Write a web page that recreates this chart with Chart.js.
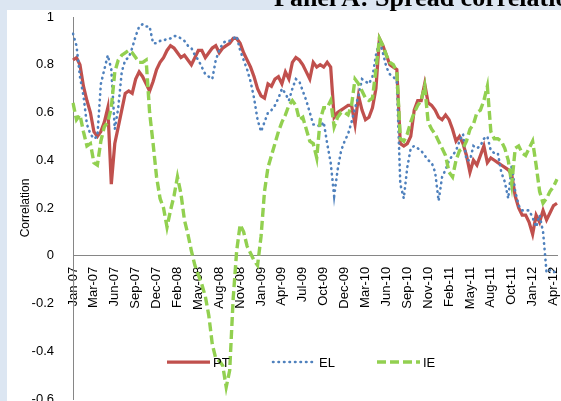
<!DOCTYPE html>
<html>
<head>
<meta charset="utf-8">
<script src="https://cdn.jsdelivr.net/npm/chart.js@4.4.0/dist/chart.umd.min.js"></script>
<style>
  html, body { margin: 0; padding: 0; }
  body { width: 561px; height: 401px; background: #dce6f2; position: relative; overflow: hidden; }
  #panel { position: absolute; left: 7px; top: 10px; width: 554px; height: 391px; background: #fff; overflow: hidden; }
  #title { position: absolute; left: 274px; top: -15px; font: bold 26px "Liberation Serif", "Times New Roman", serif; line-height: 26px; white-space: nowrap; color: #000; }
</style>
</head>
<body>
<div id="panel"><canvas id="myChart" width="554" height="398"></canvas></div>
<div id="title">Panel A: Spread correlations</div>
<script>
// tick labels along the date axis (one every 6 points)
let tick_labels = ['Jan-07','Mar-07','Jun-07','Sep-07','Dec-07','Feb-08','May-08','Aug-08','Nov-08','Jan-09',
  'Apr-09','Jul-09','Oct-09','Dec-09','Mar-10','Jun-10','Sep-10','Nov-10','Feb-11','May-11',
  'Aug-11','Oct-11','Jan-12','Apr-12'];

// correlation series (about two weeks apart)
let pt_values = [0.82,0.83,0.80,0.71,0.65,0.60,0.52,0.50,0.52,0.56,
  0.62,0.30,0.47,0.54,0.61,0.68,0.69,0.68,0.74,0.77,
  0.75,0.72,0.69,0.73,0.78,0.81,0.83,0.86,0.88,0.87,
  0.85,0.83,0.84,0.82,0.80,0.83,0.86,0.86,0.83,0.85,
  0.87,0.88,0.85,0.87,0.88,0.89,0.91,0.91,0.89,0.85,
  0.82,0.79,0.75,0.70,0.67,0.66,0.72,0.71,0.74,0.75,
  0.72,0.77,0.74,0.81,0.83,0.82,0.80,0.77,0.74,0.81,
  0.79,0.80,0.79,0.81,0.79,0.58,0.60,0.61,0.62,0.63,
  0.63,0.55,0.67,0.61,0.57,0.58,0.62,0.70,0.91,0.88,
  0.84,0.80,0.79,0.78,0.47,0.46,0.47,0.50,0.61,0.65,
  0.65,0.72,0.64,0.63,0.61,0.58,0.57,0.59,0.57,0.53,
  0.48,0.50,0.47,0.42,0.35,0.40,0.38,0.42,0.46,0.39,
  0.41,0.40,0.39,0.38,0.37,0.36,0.34,0.25,0.20,0.17,
  0.17,0.14,0.09,0.17,0.14,0.19,0.15,0.18,0.21,0.22];

let el_values = [0.93,0.88,0.75,0.67,0.55,0.51,0.49,0.50,0.72,0.78,
  0.84,0.78,0.53,0.62,0.77,0.82,0.83,0.87,0.92,0.96,
  0.97,0.96,0.96,0.89,0.89,0.90,0.90,0.91,0.91,0.92,
  0.92,0.91,0.90,0.88,0.87,0.84,0.82,0.79,0.76,0.75,
  0.74,0.82,0.86,0.89,0.90,0.90,0.91,0.92,0.86,0.82,
  0.78,0.73,0.66,0.57,0.52,0.56,0.60,0.61,0.63,0.66,
  0.70,0.68,0.65,0.70,0.74,0.73,0.69,0.65,0.60,0.55,
  0.55,0.54,0.56,0.47,0.39,0.25,0.36,0.44,0.48,0.51,
  0.56,0.62,0.67,0.74,0.73,0.72,0.75,0.84,0.90,0.85,
  0.79,0.76,0.75,0.73,0.30,0.24,0.37,0.45,0.46,0.45,
  0.44,0.42,0.40,0.39,0.35,0.23,0.33,0.36,0.40,0.42,
  0.44,0.48,0.51,0.40,0.40,0.46,0.45,0.46,0.49,0.50,
  0.44,0.43,0.43,0.35,0.31,0.24,0.38,0.27,0.21,0.19,
  0.19,0.19,0.16,0.12,0.17,0.10,-0.07,-0.06,-0.07,-0.06];

let ie_values = [0.64,0.57,0.59,0.52,0.46,0.47,0.39,0.38,0.48,0.54,
  0.56,0.62,0.77,0.82,0.84,0.85,0.86,0.85,0.83,0.81,
  0.81,0.82,0.60,0.47,0.33,0.24,0.20,0.12,0.19,0.25,
  0.33,0.26,0.15,0.09,0.02,-0.04,-0.08,-0.12,-0.17,-0.25,
  -0.37,-0.43,-0.44,-0.46,-0.55,-0.48,-0.18,0.02,0.13,0.10,
  0.04,0.01,-0.02,-0.04,0.08,0.27,0.37,0.42,0.47,0.52,
  0.56,0.59,0.63,0.65,0.63,0.57,0.58,0.53,0.48,0.47,
  0.41,0.57,0.62,0.62,0.65,0.54,0.58,0.60,0.60,0.59,
  0.63,0.74,0.72,0.69,0.66,0.65,0.66,0.78,0.91,0.88,
  0.84,0.81,0.80,0.77,0.49,0.48,0.51,0.56,0.60,0.63,
  0.65,0.71,0.56,0.53,0.51,0.48,0.45,0.42,0.35,0.33,
  0.40,0.44,0.45,0.48,0.53,0.55,0.60,0.61,0.65,0.71,
  0.52,0.49,0.49,0.48,0.45,0.40,0.30,0.45,0.46,0.43,
  0.42,0.45,0.48,0.38,0.27,0.22,0.24,0.27,0.29,0.32];

let series_names = ['PT', 'EL', 'IE'];

// category labels: a tick label every 6th point, blank in between
let labels = pt_values.map((v, i) => (i % 6 === 0 && tick_labels[i / 6]) ? tick_labels[i / 6] : '');

const axisFont = { family: '"Liberation Sans", Arial, sans-serif', size: 13 };

// legend drawn inside the plot, like the original
const legendInside = {
  id: 'legendInside',
  afterDraw(chart) {
    const c = chart.ctx;
    const xs = [160, 266, 370];
    const y = 352;
    chart.data.datasets.forEach((ds, k) => {
      c.save();
      c.strokeStyle = ds.borderColor;
      c.lineWidth = ds.borderWidth;
      c.lineCap = ds.borderCapStyle || 'butt';
      c.setLineDash(ds.borderDash || []);
      c.beginPath();
      c.moveTo(xs[k], y);
      c.lineTo(xs[k] + 43, y);
      c.stroke();
      c.setLineDash([]);
      c.fillStyle = '#000';
      c.font = '13px "Liberation Sans", Arial, sans-serif';
      c.textBaseline = 'middle';
      c.fillText(ds.label, xs[k] + 46, y + 1);
      c.restore();
    });
  }
};

let ctx = document.getElementById('myChart').getContext('2d');
let mychart = new Chart(ctx, {
  type: 'line',
  data: {
    labels: labels,
    datasets: [
      {
        label: series_names[0],
        data: pt_values,
        borderColor: '#c0504d',
        borderWidth: 3.25,
        order: 3
      },
      {
        label: series_names[1],
        data: el_values,
        borderColor: '#4f81bd',
        borderWidth: 2.6,
        borderDash: [0.5, 5],
        borderCapStyle: 'round',
        order: 2
      },
      {
        label: series_names[2],
        data: ie_values,
        borderColor: '#92d050',
        borderWidth: 3.4,
        borderDash: [9, 4],
        order: 1
      }
    ]
  },
  options: {
    responsive: false,
    animation: false,
    layout: { padding: { top: 7, right: 4, bottom: 9, left: 0 } },
    elements: { point: { radius: 0 }, line: { tension: 0 } },
    plugins: { legend: { display: false }, tooltip: { enabled: false } },
    scales: {
      x: {
        position: { y: 0 },
        grid: { display: false },
        border: { color: '#868686', width: 1 },
        ticks: { autoSkip: false, minRotation: 90, maxRotation: 90, padding: 3, color: '#000', font: axisFont },
        afterFit: (s) => { s.paddingLeft = 0; s.paddingRight = 0; }
      },
      y: {
        min: -0.6,
        max: 1,
        grid: { display: false },
        border: { color: '#868686', width: 1 },
        ticks: {
          stepSize: 0.2,
          padding: 11,
          color: '#000',
          font: axisFont,
          callback: (v) => (Math.round(v * 10) / 10).toString()
        },
        title: {
          display: true,
          text: 'Correlation',
          color: '#000',
          font: { family: '"Liberation Sans", Arial, sans-serif', size: 12 },
          padding: { top: 11, bottom: 0 }
        },
        afterFit: (s) => { s.width = 66; s.paddingTop = 0; s.paddingBottom = 0; }
      }
    }
  },
  plugins: [legendInside]
});
</script>
</body>
</html>
